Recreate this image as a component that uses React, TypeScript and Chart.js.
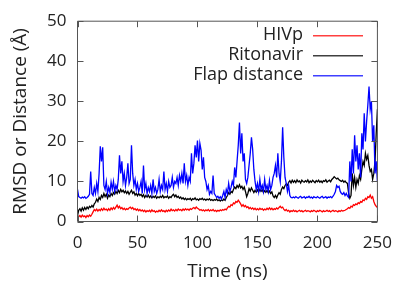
import React, { useEffect, useRef } from "react";
import { Chart, registerables } from "chart.js";

Chart.register(...registerables);

// ---- data ----
const SERIES_NAMES = ["HIVp", "Ritonavir", "Flap distance"];
const SERIES_COLORS = ["rgb(255,0,0)", "rgb(0,0,0)", "rgb(0,0,255)"];
const X_TICKS = [0, 50, 100, 150, 200, 250];
const Y_TICKS = [0, 10, 20, 30, 40, 50];
const TIME_START_NS = 0;
const TIME_STEP_NS = 1;

const HIVP_RMSD = [
  0.5, 1.2, 1.5, 1.1, 1.6, 1.2, 1.4, 1, 1.5, 1.2,
  1.6, 1.3, 1.8, 2.4, 3, 2.7, 3.1, 2.6, 3, 2.7,
  3.2, 2.8, 3.3, 2.9, 3.1, 2.7, 3.2, 2.8, 3.4, 3,
  3.5, 3.1, 3.6, 4.1, 3.4, 3.8, 3.2, 3.5, 3, 3.3,
  2.9, 3.2, 3, 3.4, 3.6, 3.2, 3.5, 3, 3.2, 2.8,
  3.1, 2.7, 3, 2.6, 2.9, 2.5, 2.8, 2.4, 2.7, 2.5,
  2.8, 2.4, 2.9, 2.5, 2.7, 2.3, 2.6, 2.4, 2.8, 2.5,
  2.9, 2.5, 2.7, 2.4, 2.8, 2.5, 2.9, 2.6, 3.1, 2.7,
  2.9, 2.6, 3, 2.7, 3.1, 2.8, 3, 2.7, 3.1, 2.8,
  3.2, 2.9, 3.1, 2.8, 3.2, 3, 3.3, 3.5, 3.2, 3.6,
  3.3, 3.1, 2.8, 3, 2.7, 2.9, 2.6, 2.9, 2.7, 3,
  2.6, 2.9, 2.7, 3, 2.6, 2.8, 2.5, 2.8, 2.6, 2.9,
  2.7, 3, 2.8, 3.1, 2.9, 3.4, 3.8, 3.6, 4.2, 4,
  4.6, 4.4, 5, 4.8, 5.3, 4.9, 4.4, 3.8, 4.2, 3.7,
  4, 3.5, 3.7, 3.2, 3.5, 3.1, 3.4, 3, 3.3, 2.9,
  3.2, 2.9, 3.3, 3, 3.2, 2.8, 3.1, 2.9, 3.3, 3,
  3.4, 3, 3.3, 2.9, 3.2, 3, 3.4, 3.1, 3.5, 3.8,
  3.4, 3.6, 3, 2.7, 3, 2.6, 2.8, 2.4, 2.7, 2.5,
  2.8, 2.5, 2.7, 2.4, 2.6, 2.8, 2.5, 2.7, 2.4, 2.6,
  2.8, 2.5, 2.7, 2.6, 2.4, 2.7, 2.5, 2.8, 2.6, 2.4,
  2.7, 2.5, 2.8, 2.6, 2.4, 2.7, 2.5, 2.6, 2.8, 2.5,
  2.7, 2.4, 2.6, 2.8, 2.5, 2.7, 2.6, 2.4, 2.7, 2.5,
  2.8, 2.6, 2.7, 2.8, 3, 3.2, 3.5, 3.3, 3.8, 3.6,
  4.2, 4, 4.4, 4.2, 4.7, 4.5, 5, 4.8, 5.4, 5.2,
  5.8, 5.5, 6.2, 6, 6.6, 5.8, 6.2, 5, 4.2, 3.8, 3.5,
];

const RITONAVIR_RMSD = [
  1.5, 2.8, 3.2, 2.6, 3.4, 2.8, 3.5, 3, 3.6, 3.2,
  3.8, 3.5, 4, 3.6, 4.4, 4.8, 5.6, 5, 6, 5.5,
  6.5, 6, 7, 6.2, 6.8, 5.8, 6.6, 6.2, 7, 6.5,
  7.2, 6.8, 7.5, 7, 7.8, 7.2, 8, 7.4, 7.8, 7.2,
  7.6, 7, 7.5, 6.8, 7.3, 7.8, 7, 7.4, 6.6, 7,
  6.4, 7, 6.5, 6.8, 6.2, 6.7, 6, 6.5, 6.1, 6.6,
  6, 6.4, 5.9, 6.3, 6, 6.4, 5.8, 6.2, 5.9, 6.3,
  6, 6.5, 5.9, 6.2, 6, 6.4, 5.8, 6.2, 6, 6.5,
  6.8, 6.2, 6.6, 6, 6.3, 5.8, 6.1, 5.6, 5.9, 5.5,
  5.8, 5.4, 5.7, 5.5, 5.8, 5.3, 5.7, 5.5, 5.9, 5.4,
  5.6, 5.3, 5.7, 5.5, 5.8, 5.4, 5.6, 5.3, 5.6, 5.4,
  5.7, 5.3, 5.5, 5.2, 5.5, 5.3, 5.6, 5.2, 5.4, 5.1,
  5.4, 5.2, 5.6, 5.3, 6, 6.5, 7.2, 6.8, 7.5, 7.2,
  8, 8.6, 8.2, 9, 8.5, 9.2, 8.4, 8.8, 8, 8.6,
  7.5, 6.2, 7, 8.2, 7.6, 8.4, 7.8, 7.2, 7.8, 7.3,
  7.9, 7.4, 8, 7.5, 7.9, 7.2, 7.7, 7.3, 7.8, 7.2,
  7.6, 7, 7.4, 6.4, 6, 6.5, 5.9, 6.6, 7.2, 6.8,
  8, 8.6, 8.2, 9, 9.4, 9, 9.8, 10.2, 9.6, 10.3,
  9.8, 10.2, 9.7, 10.4, 9.9, 10.1, 9.6, 10.3, 10, 9.8,
  10.2, 9.9, 10.4, 9.7, 10.1, 9.8, 10.3, 10, 9.7, 10.2,
  9.9, 10.3, 9.8, 10.1, 9.7, 10.2, 10, 10.4, 9.8, 10.1,
  10.3, 9.9, 10.5, 10.8, 11.2, 10.9, 10.6, 10.8, 10.4, 10.2,
  10, 10.3, 9.8, 10.1, 9.7, 9.5, 7, 5.8, 6.5, 12,
  9, 11, 8.5, 10.5, 9.5, 11.5, 10.5, 13, 15, 14,
  17, 15.5, 16.5, 14, 12.5, 13, 10.5, 12, 15, 22, 28,
];

const FLAP_DISTANCE = [
  8, 6.2, 6, 5.8, 6.1, 5.9, 6.2, 5.8, 6, 6.3,
  6.8, 12.5, 7, 6.5, 8.5, 7, 9.5, 7.5, 12, 18.8,
  15, 18.5, 9, 8, 10, 7, 8.5, 7.2, 9.8, 8,
  10, 7.5, 9, 8, 10.5, 16.5, 12, 15, 10, 12,
  9, 11, 14.5, 9.5, 10.5, 19, 12, 9, 10.5, 8,
  9.5, 7.5, 8.5, 10, 7, 14, 8, 9.5, 7, 8.5,
  7.5, 9, 7, 10.5, 7.5, 8.5, 7, 8, 10.5, 7.5,
  9, 8, 12.5, 8, 9.5, 7.5, 10, 8.5, 9, 11,
  8.5, 10, 9.5, 11, 9, 11.5, 10, 12, 9.5, 14.5,
  10, 11.5, 9, 11, 10, 17, 12, 14.5, 19, 16,
  20.2, 15, 19.5, 17.8, 13, 16, 11, 10, 8, 9,
  6.8, 7.5, 7, 11.5, 7, 6.5, 6, 6.3, 5.8, 6.2,
  5.6, 6.5, 7.5, 6, 8, 7, 9.5, 7.5, 8.5, 10,
  9, 13.5, 11, 15, 19, 24.7, 17, 22, 15, 17,
  10.5, 9.5, 11, 14, 17, 21, 18, 13, 10, 8,
  9.5, 7.5, 10.5, 8, 9, 7.5, 10.5, 8, 9, 7.5,
  10.2, 8, 9, 11, 12, 14, 11, 17, 12, 10,
  15, 23.5, 16, 11, 9.5, 7.5, 9, 6.5, 6, 5.9,
  6.1, 5.9, 6.2, 6, 5.8, 6.1, 6.3, 5.9, 6, 6.2,
  5.8, 6.1, 6, 6.3, 5.9, 6.1, 5.8, 6.2, 6, 5.9,
  6.2, 6, 5.8, 6.1, 6.3, 5.9, 6, 6.2, 5.8, 6.1,
  6, 6.2, 5.9, 6.3, 6.8, 7.5, 9, 8.5, 8.8, 7.5,
  7, 6.8, 7.2, 6.5, 7, 6.4, 6, 15, 10, 18,
  12, 21.5, 15, 19, 13, 17, 11, 22, 18, 27,
  20, 25, 29, 33.7, 28, 30, 20, 24, 12, 15, 10,
];

// sampling grid of the trajectory (uniform 1 ns frames)
const TIME_NS = FLAP_DISTANCE.map((_, i) => TIME_START_NS + i * TIME_STEP_NS);

const FONT = "'Open Sans', 'DejaVu Sans', sans-serif";
const TEXT_COLOR = "#222";
const FRAME_COLOR = "#555";

const framePlugin = {
  id: "gnuFrame",
  afterDatasetsDraw(chart: any) {
    const { ctx, chartArea: a, scales } = chart;
    const L = a.left, R = a.right, T = a.top, B = a.bottom;
    const tl = 6;
    ctx.save();
    ctx.strokeStyle = FRAME_COLOR;
    ctx.lineWidth = 1;
    ctx.beginPath();
    ctx.rect(L, T, R - L, B - T);
    for (const t of scales.x.ticks) {
      const px = Math.round(scales.x.getPixelForValue(t.value)) + 0.5;
      ctx.moveTo(px, B); ctx.lineTo(px, B - tl);
      ctx.moveTo(px, T); ctx.lineTo(px, T + tl);
    }
    for (const t of scales.y.ticks) {
      const py = Math.round(scales.y.getPixelForValue(t.value)) + 0.5;
      ctx.moveTo(L, py); ctx.lineTo(L + tl, py);
      ctx.moveTo(R, py); ctx.lineTo(R - tl, py);
    }
    ctx.stroke();
    ctx.restore();
  },
  afterDraw(chart: any) {
    const { ctx } = chart;
    ctx.save();
    ctx.font = `18px ${FONT}`;
    ctx.textAlign = "right";
    ctx.textBaseline = "middle";
    chart.data.datasets.forEach((ds: any, i: number) => {
      const y = 35 + i * 20;
      ctx.fillStyle = TEXT_COLOR;
      ctx.fillText(ds.label, 303, y);
      ctx.fillStyle = SERIES_COLORS[i];
      ctx.globalAlpha = 0.75;
      ctx.fillRect(313, Math.round(y), 50, 1.5);
      ctx.globalAlpha = 1;
    });
    ctx.restore();
  },
};

export default function App() {
  const ref = useRef<HTMLCanvasElement | null>(null);
  useEffect(() => {
    if (!ref.current) return;
    const series = [HIVP_RMSD, RITONAVIR_RMSD, FLAP_DISTANCE];
    const chart = new Chart(ref.current, {
      type: "line",
      data: {
        labels: TIME_NS,
        datasets: series.map((vals, i) => ({
          label: SERIES_NAMES[i],
          data: vals.map((v, j) => ({ x: TIME_NS[j], y: v })),
          borderColor: SERIES_COLORS[i],
          borderWidth: 1.3,
          pointRadius: 0,
          tension: 0,
          fill: false,
          order: 2 - i,
        })),
      },
      options: {
        animation: false,
        responsive: false,
        devicePixelRatio: 1,
        layout: { padding: { top: 16, right: 20.5, left: 0, bottom: 0 } },
        plugins: { legend: { display: false }, tooltip: { enabled: false } },
        scales: {
          x: {
            type: "linear",
            min: 0,
            max: 250,
            grid: { display: false, drawTicks: false },
            border: { display: false },
            afterBuildTicks: (s: any) => { s.ticks = X_TICKS.map((v) => ({ value: v })); },
            afterFit: (s: any) => { s.height = 62.5; },
            ticks: { color: TEXT_COLOR, font: { family: FONT, size: 17 }, padding: 11, maxRotation: 0 },
            title: {
              display: true,
              text: "Time (ns)",
              color: TEXT_COLOR,
              font: { family: FONT, size: 19 },
              padding: { top: 0, bottom: 1 },
            },
          },
          y: {
            type: "linear",
            min: 0,
            max: 50,
            grid: { display: false, drawTicks: false },
            border: { display: false },
            afterBuildTicks: (s: any) => { s.ticks = Y_TICKS.map((v) => ({ value: v })); },
            afterFit: (s: any) => { s.width = 77.5; },
            ticks: { color: TEXT_COLOR, font: { family: FONT, size: 17 }, padding: 11 },
            title: {
              display: true,
              text: "RMSD or Distance (Å)",
              color: TEXT_COLOR,
              font: { family: FONT, size: 19 },
              padding: { top: 9, bottom: 0 },
            },
          },
        },
      },
      plugins: [framePlugin],
    });
    return () => chart.destroy();
  }, []);

  return (
    <div style={{ position: "fixed", left: 0, top: 0, width: 403, height: 284, background: "#fff" }}>
      <canvas ref={ref} width={403} height={284} style={{ display: "block" }} />
    </div>
  );
}
